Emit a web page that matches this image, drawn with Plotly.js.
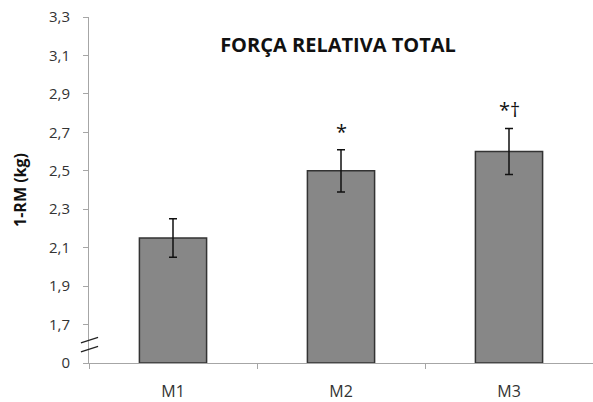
<!DOCTYPE html>
<html><head><meta charset="utf-8">
<script src="https://cdn.plot.ly/plotly-3.0.1.min.js"></script>
<style>body{margin:0}#c{width:593px;height:402px}</style>
</head><body><div id="c"></div>
<script>
var categories = ["M1", "M2", "M3"];
var means = [2.15, 2.50, 2.60];
var errors = [0.10, 0.11, 0.12];
var marks = ["", "*", "*\u2020"];
var tickVals = [1.5, 1.7, 1.9, 2.1, 2.3, 2.5, 2.7, 2.9, 3.1, 3.3];
var tickText = ["0", "1,7", "1,9", "2,1", "2,3", "2,5", "2,7", "2,9", "3,1", "3,3"];
var axisBase = 1.5;

var trace = {
  type: "bar",
  x: categories,
  y: means.map(function(v){ return v - axisBase; }),
  base: axisBase,
  width: 0.4,
  marker: {color: "#878787", line: {color: "#333333", width: 1.5}},
  error_y: {type: "data", array: errors, visible: true, color: "#111111", thickness: 1.5, width: 4},
  hoverinfo: "none"
};

var annotations = [];
for (var i = 0; i < categories.length; i++) {
  if (marks[i]) {
    annotations.push({x: categories[i], y: means[i] + errors[i], yanchor: "bottom", yshift: 3,
      text: marks[i], showarrow: false, font: {family: "Open Sans, Liberation Sans", size: 20, color: "#111"}});
  }
}

var layout = {
  width: 593, height: 402,
  margin: {l: 89, r: 0, t: 17, b: 39},
  paper_bgcolor: "#ffffff", plot_bgcolor: "#ffffff",
  showlegend: false,
  title: {text: "<b>FORÇA RELATIVA TOTAL</b>", x: 0.57, xanchor: "center", y: 0.888, yanchor: "middle",
    font: {family: "Open Sans, Liberation Sans", size: 20, color: "#111"}},
  xaxis: {
    showline: true, linecolor: "#a6a6a6", linewidth: 1,
    ticks: "outside", tickson: "boundaries", ticklen: 5, tickcolor: "#a6a6a6",
    ticklabelstandoff: 14,
    tickfont: {family: "Open Sans, Liberation Sans", size: 16, color: "#333"},
    showgrid: false, zeroline: false
  },
  yaxis: {
    range: [1.5, 3.3],
    tickvals: tickVals, ticktext: tickText,
    showline: true, linecolor: "#a6a6a6", linewidth: 1,
    ticks: "outside", ticklen: 5, tickcolor: "#a6a6a6",
    ticklabelstandoff: 10,
    tickfont: {family: "Open Sans, Liberation Sans", size: 15, color: "#333"},
    showgrid: false, zeroline: false,
    title: {text: "<b>1-RM (kg)</b>", standoff: 18, font: {family: "Open Sans, Liberation Sans", size: 16, color: "#111"}}
  },
  annotations: annotations,
  shapes: [
    {type: "line", xref: "paper", yref: "paper", x0: -0.016, x1: 0.018, y0: 0.058, y1: 0.074, line: {color: "#222", width: 1.2}},
    {type: "line", xref: "paper", yref: "paper", x0: -0.016, x1: 0.018, y0: 0.032, y1: 0.048, line: {color: "#222", width: 1.2}}
  ]
};

Plotly.newPlot("c", [trace], layout, {staticPlot: true});
</script></body></html>
